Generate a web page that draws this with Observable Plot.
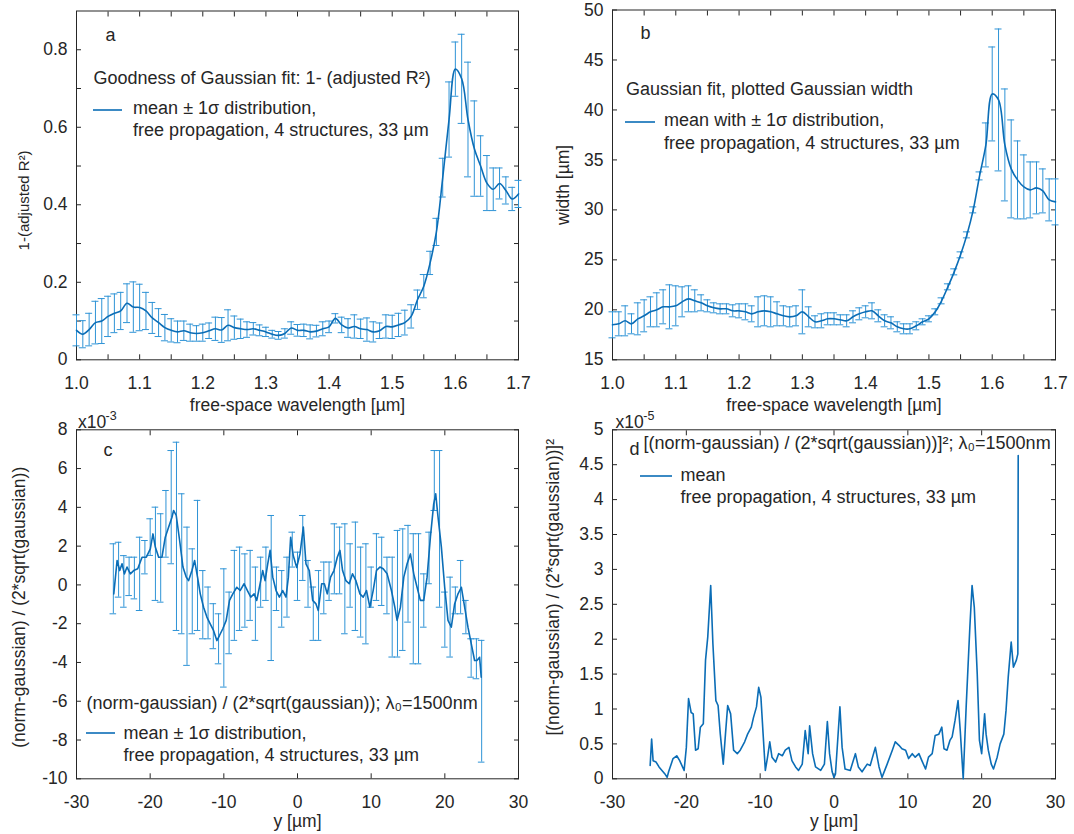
<!DOCTYPE html>
<html><head><meta charset="utf-8">
<script src="https://cdn.jsdelivr.net/npm/d3@7"></script>
<script src="https://cdn.jsdelivr.net/npm/@observablehq/plot@0.6"></script>
<style>
body{margin:0;background:#fff;}
#root{position:relative;width:1074px;height:834px;overflow:hidden;background:#fff;}
#root svg{position:absolute;}
</style></head><body><div id="root"></div>
<script>
// ---------- data ----------
const wavelength = d3.range(71).map(i => Math.round(100 + i) / 100); // 1.00 … 1.70 µm sampling
const aMean = [0.076,0.066,0.078,0.096,0.100,0.112,0.120,0.126,0.146,0.136,
  0.135,0.126,0.108,0.096,0.083,0.076,0.072,0.075,0.070,0.068,
  0.070,0.075,0.080,0.077,0.089,0.083,0.080,0.078,0.080,0.076,
  0.072,0.066,0.063,0.068,0.082,0.076,0.076,0.072,0.074,0.080,
  0.085,0.107,0.090,0.082,0.086,0.080,0.078,0.072,0.075,0.086,
  0.085,0.090,0.096,0.112,0.155,0.190,0.250,0.330,0.470,0.620,
  0.750,0.725,0.620,0.545,0.500,0.456,0.440,0.455,0.437,0.415,0.428];
const aErr = [0.040,0.035,0.042,0.055,0.058,0.052,0.050,0.048,0.050,0.065,
  0.060,0.048,0.040,0.036,0.034,0.030,0.028,0.025,0.022,0.020,
  0.022,0.020,0.030,0.032,0.040,0.030,0.025,0.020,0.016,0.014,
  0.012,0.010,0.010,0.012,0.016,0.015,0.016,0.018,0.015,0.018,
  0.015,0.012,0.020,0.024,0.030,0.025,0.030,0.026,0.020,0.030,
  0.030,0.030,0.032,0.030,0.025,0.030,0.030,0.035,0.050,0.097,
  0.070,0.115,0.148,0.123,0.078,0.071,0.055,0.040,0.035,0.030,0.035];
const bMean = [18.5,18.6,18.9,18.6,19.1,19.4,19.8,20.0,20.3,20.3,
  20.4,20.8,21.1,20.9,20.7,20.4,20.2,20.1,20.1,19.9,
  19.9,19.8,19.6,19.8,19.9,19.8,19.6,19.4,19.3,19.4,
  19.8,19.3,18.8,18.9,19.1,19.1,19.0,18.9,19.3,19.6,
  19.8,19.9,19.4,18.9,18.7,18.3,18.1,18.1,18.4,18.8,
  19.1,19.8,20.9,22.3,23.8,25.5,27.5,30.0,33.4,36.5,
  41.6,41.0,36.5,34.1,33.0,32.3,32.0,32.2,31.9,31.0,30.8];
const bErr = [1.3,1.2,1.5,1.0,1.6,1.6,1.5,1.7,1.7,2.2,
  2.0,1.5,1.3,1.1,0.8,0.6,0.5,0.5,0.5,0.6,
  0.7,0.8,0.8,1.5,1.5,1.5,1.2,1.0,1.0,1.0,
  2.2,1.0,0.6,0.7,0.6,0.6,0.5,0.6,0.6,0.6,
  0.6,0.8,0.6,0.6,0.6,0.5,0.5,0.5,0.4,0.3,
  0.3,0.3,0.3,0.3,0.3,0.3,0.3,0.3,0.4,2.2,
  4.7,7.1,5.6,4.9,3.9,3.2,2.8,2.6,2.2,2.1,2.3];

// panel c (values ×10^-3)
const cMean = [[-24.94,-0.46],[-24.49,1.26],[-24.13,0.74],[-23.82,1.09],[-23.5,0.57],[-23.14,0.92],[-22.69,0.57],[-22.24,0.74],[-21.69,0.83],[-21.1,1.43],[-20.52,1.43],[-19.98,1.86],[-19.62,2.63],[-19.3,1.95],[-18.85,1.43],[-18.4,1.43],[-17.95,2.46],[-17.5,2.98],[-17.04,3.49],[-16.82,3.84],[-16.46,3.58],[-16.0,2.29],[-15.55,0.92],[-15.1,0.4],[-14.79,0.22],[-14.33,0.74],[-13.97,1.26],[-13.57,0.4],[-13.2,-0.46],[-12.75,-1.15],[-12.3,-1.66],[-11.85,-2.01],[-11.4,-2.35],[-10.95,-2.87],[-10.59,-2.61],[-10.14,-2.26],[-9.68,-1.83],[-9.23,-0.8],[-8.78,-0.46],[-8.24,-0.12],[-7.79,-0.29],[-7.25,0.06],[-6.8,-0.29],[-6.34,-0.63],[-5.89,-0.46],[-5.53,-0.8],[-5.17,-0.12],[-4.72,0.74],[-4.4,0.22],[-4.04,1.09],[-3.72,1.78],[-3.36,0.4],[-2.91,-0.29],[-2.46,-0.63],[-2.01,-0.29],[-1.56,-0.63],[-1.24,0.4],[-0.93,2.46],[-0.57,1.5],[-0.11,0.9],[0.34,1.6],[0.79,2.98],[1.15,1.09],[1.6,0.74],[2.06,-0.8],[2.51,-0.98],[2.82,-1.32],[3.28,0.06],[3.64,0.06],[4.04,-0.46],[4.49,0.4],[4.95,0.74],[5.4,1.43],[5.76,1.78],[6.12,0.74],[6.57,0.22],[7.02,0.06],[7.47,0.57],[7.93,0.22],[8.47,-0.46],[8.92,-0.63],[9.37,-0.29],[9.82,-1.15],[10.27,-0.29],[10.72,0.74],[11.18,0.92],[11.63,0.83],[12.17,0.57],[12.75,-0.29],[13.21,-1.15],[13.52,-1.83],[13.97,-1.15],[14.43,0.4],[14.88,1.09],[15.33,1.6],[15.78,0.57],[16.23,-0.12],[16.68,-0.8],[17.14,-0.8],[17.59,0.4],[18.04,2.46],[18.49,4.18],[18.76,4.7],[19.08,3.49],[19.53,1.95],[19.98,-0.12],[20.43,-1.83],[20.88,-2.18],[21.33,-0.98],[21.79,-0.46],[22.24,-0.12],[22.69,-1.15],[23.14,-2.18],[23.59,-3.04],[24.04,-3.9],[24.36,-3.9],[24.72,-3.73],[24.94,-4.76]];
const cBarY = d3.range(71).map(i => -25 + i * 50 / 70); // error-bar sample positions (µm)
const cHi = [2.12,2.2,1.51,1.43,1.43,2.46,2.29,3.41,4.01,3.67,
  4.87,6.93,7.36,4.7,2.98,1.86,4.36,0.74,-0.11,-0.97,
  -1.49,0.83,-0.37,1.78,1.95,1.6,1.78,0.92,1.43,1.95,
  3.58,0.92,0.74,1.43,2.72,1.69,3.58,1.26,-0.11,0.74,
  1.18,1.18,3.15,2.98,3.15,2.12,3.24,1.95,2.12,0.92,
  2.64,2.46,1.43,1.43,2.81,2.89,3.07,2.64,2.64,0.57,
  2.72,6.93,6.93,-0.37,0.4,-0.11,1.26,-0.8,-2.78,-2.78,-2.86];
const cLo = [-1.49,-0.63,-1.15,-0.55,-0.72,-1.32,0.57,1.52,-0.8,-0.89,
  1.43,1.09,-2.35,-2.52,-4.15,-2.52,-2.35,-2.78,-2.78,-3.29,
  -4.07,-5.27,-3.55,-2.86,-2.35,-2.18,-1.83,-2.86,-1.15,-0.8,
  -3.9,-1.32,-2.18,-1.66,0.92,-0.8,0.23,-1.15,-2.86,-2.86,
  -1.49,-0.8,-0.46,-0.46,-2.52,-1.15,-2.35,-2.69,-3.04,-1.15,
  -0.8,-1.06,-1.49,-3.72,-3.72,-3.38,-1.92,-4.07,-4.07,-2.18,
  0.06,3.84,-1.15,-3.21,-3.72,-1.49,-1.49,-2.52,-4.76,-4.84,-9.14];

// panel d (values ×10^-5)
const dMean = [[-24.9,0.19],[-24.7,0.57],[-24.5,0.26],[-24.1,0.24],[-23.7,0.17],[-23.3,0.12],[-22.9,0.07],[-22.6,0.02],[-22.4,0.10],[-21.8,0.29],[-21.3,0.33],[-20.9,0.26],[-20.3,0.12],[-20.0,0.45],[-19.7,1.15],[-19.35,0.95],[-19.07,0.93],[-18.75,0.41],[-18.4,0.43],[-18.1,0.74],[-17.7,0.79],[-17.4,1.70],[-17.1,2.03],[-16.7,2.77],[-16.4,1.93],[-16.0,1.12],[-15.7,1.05],[-15.4,0.64],[-15.0,0.21],[-14.7,0.64],[-14.4,1.05],[-14.0,0.93],[-13.6,0.41],[-13.1,0.36],[-12.7,0.41],[-12.1,0.53],[-11.7,0.64],[-11.2,0.74],[-10.9,0.88],[-10.5,1.03],[-10.2,1.31],[-9.9,1.17],[-9.6,0.64],[-9.3,0.12],[-9.0,0.31],[-8.7,0.53],[-8.4,0.31],[-7.9,0.24],[-7.5,0.36],[-7.0,0.33],[-6.6,0.41],[-6.1,0.45],[-5.7,0.26],[-5.2,0.17],[-4.8,0.12],[-4.3,0.21],[-3.9,0.69],[-3.5,0.36],[-3.3,0.76],[-2.9,0.36],[-2.5,0.17],[-1.8,0.12],[-1.3,0.21],[-0.9,0.82],[-0.6,0.36],[-0.25,0.10],[0.0,0.02],[0.2,0.07],[0.8,1.03],[1.1,0.45],[1.5,0.14],[2.2,0.12],[2.9,0.36],[3.3,0.17],[3.8,0.10],[4.5,0.21],[4.9,0.19],[5.6,0.45],[6.1,0.17],[6.5,0.02],[7.2,0.21],[7.9,0.41],[8.3,0.53],[8.8,0.48],[9.2,0.43],[9.7,0.41],[10.1,0.29],[10.6,0.36],[11.0,0.31],[11.5,0.36],[11.9,0.26],[12.4,0.14],[12.8,0.31],[13.3,0.36],[13.7,0.62],[14.2,0.64],[14.6,0.74],[14.9,0.43],[15.3,0.41],[15.7,0.55],[16.0,0.60],[16.4,0.84],[16.8,1.12],[17.1,0.69],[17.5,0.0],[17.9,1.03],[18.4,2.17],[18.7,2.77],[19.0,2.46],[19.4,1.50],[19.7,0.55],[20.0,0.36],[20.4,0.93],[20.6,0.64],[20.9,0.41],[21.3,0.21],[21.6,0.14],[22.1,0.31],[22.5,0.50],[23.0,0.64],[23.3,0.98],[23.6,1.46],[24.0,1.96],[24.3,1.60],[24.7,1.70],[24.9,1.79],[24.95,4.63]];

// ticks
const wlTicksMinor = [1.0,1.05,1.1,1.15,1.2,1.25,1.3,1.35,1.4,1.45,1.5,1.55,1.6,1.65,1.7];
const wlTicksMajor = [1.0,1.1,1.2,1.3,1.4,1.5,1.6,1.7];
const aTicksMinor = [0,0.1,0.2,0.3,0.4,0.5,0.6,0.7,0.8];
const aTicksMajor = [0,0.2,0.4,0.6,0.8];
const bTicks = [15,20,25,30,35,40,45,50];
const posTicks = [-30,-20,-10,0,10,20,30];
const cTicks = [-10,-8,-6,-4,-2,0,2,4,6,8];
const dTicks = [0,0.5,1,1.5,2,2.5,3,3.5,4,4.5,5];

// ---------- style ----------
const ink = "#262626";
const meanBlue = "#0b6db6";
const barBlue = "#2e93d6";
const FONT = "'Liberation Sans', Arial, Helvetica, sans-serif";
const TICK_FS = 17.5, TEXT_FS = 18;

function boxAxes(xMinor, xMajor, xFmt, yMinor, yMajor, yFmt) {
  const tk = {tickSize: -5, fill: "none", stroke: ink, label: null};
  return [
    Plot.frame({stroke: ink, strokeWidth: 1}),
    Plot.axisX(xMinor, {anchor: "bottom", ...tk}),
    Plot.axisX(xMinor, {anchor: "top", ...tk}),
    Plot.axisY(yMinor, {anchor: "left", ...tk}),
    Plot.axisY(yMinor, {anchor: "right", ...tk}),
    Plot.axisX(xMajor, {anchor: "bottom", tickSize: 0, tickPadding: 17, tickFormat: xFmt, fill: ink, label: null, fontSize: TICK_FS}),
    Plot.axisY(yMajor, {anchor: "left", tickSize: 0, tickPadding: 9, tickFormat: yFmt, fill: ink, label: null, fontSize: TICK_FS})
  ];
}
function note(str, dx, dy, size = TEXT_FS) {
  return Plot.text([str], {text: d => d, frameAnchor: "top-left", dx, dy, textAnchor: "start", lineAnchor: "middle", fontSize: size, fill: ink});
}
function yLabel(str, dx, dy, size = TICK_FS) {
  return Plot.text([str], {text: d => d, frameAnchor: "left", rotate: -90, dx, dy, textAnchor: "middle", lineAnchor: "middle", fontSize: size, fill: ink});
}
function xLabel(str, dy) {
  return Plot.text([str], {text: d => d, frameAnchor: "bottom", dy, textAnchor: "middle", lineAnchor: "middle", fontSize: TICK_FS, fill: ink});
}
function errorBars(data, cap) {
  return [
    Plot.ruleX(data, {x: "x", y1: "lo", y2: "hi", stroke: barBlue, strokeWidth: 1}),
    Plot.ruleY(data, {y: "hi", x1: "x", x2: "x", insetLeft: -cap, insetRight: -cap, stroke: barBlue, strokeWidth: 1}),
    Plot.ruleY(data, {y: "lo", x1: "x", x2: "x", insetLeft: -cap, insetRight: -cap, stroke: barBlue, strokeWidth: 1})
  ];
}
const baseStyle = {background: "transparent", fontFamily: FONT, color: ink, overflow: "visible"};
const root = document.getElementById("root");
function place(svg, left, top, swatch) {
  svg.style.left = left + "px"; svg.style.top = top + "px";
  d3.select(svg).append("line")
    .attr("x1", swatch[0]).attr("x2", swatch[1]).attr("y1", swatch[2]).attr("y2", swatch[2])
    .attr("stroke", meanBlue).attr("stroke-width", 1.6);
  root.appendChild(svg);
}
const fmt1 = d => d.toFixed(1);
const fmtG = d => d === 0 ? "0" : String(d);

// ---------- panel a ----------
const aData = wavelength.map((x, i) => ({x, y: aMean[i], lo: aMean[i] - aErr[i], hi: aMean[i] + aErr[i]}));
const svgA = Plot.plot({
  width: 537, height: 414, marginLeft: 76, marginRight: 19, marginTop: 10.5, marginBottom: 54.7,
  x: {domain: [1, 1.7]}, y: {domain: [0, 0.9]}, style: baseStyle,
  marks: [
    ...boxAxes(wlTicksMinor, wlTicksMajor, fmt1, aTicksMinor, aTicksMajor, fmtG),
    ...errorBars(aData, 3.5),
    Plot.line(aData, {x: "x", y: "y", stroke: meanBlue, strokeWidth: 1.6, curve: "catmull-rom"}),
    note("a", 29, 24.5),
    note("Goodness of Gaussian fit: 1- (adjusted R²)", 17, 67),
    note("mean ± 1σ distribution,", 56.6, 97.5),
    note("free propagation, 4 structures, 33 µm", 56.6, 119.5),
    yLabel("1-(adjusted R²)", -52, 15, 15),
    xLabel("free-space wavelength [µm]", 45.7)
  ]
});
place(svgA, 0, 0, [93, 122, 110]);

// ---------- panel b ----------
const bData = wavelength.map((x, i) => ({x, y: bMean[i], lo: bMean[i] - bErr[i], hi: bMean[i] + bErr[i]}));
const svgB = Plot.plot({
  width: 537, height: 414, marginLeft: 75, marginRight: 19, marginTop: 9.5, marginBottom: 54.7,
  x: {domain: [1, 1.7]}, y: {domain: [15, 50]}, style: baseStyle,
  marks: [
    ...boxAxes(wlTicksMinor, wlTicksMajor, fmt1, bTicks, bTicks, fmtG),
    ...errorBars(bData, 3.5),
    Plot.line(bData, {x: "x", y: "y", stroke: meanBlue, strokeWidth: 1.6, curve: "catmull-rom"}),
    note("b", 28, 23.5),
    note("Gaussian fit, plotted Gaussian width", 13.4, 79.5),
    note("mean with ± 1σ distribution,", 51.6, 110.5),
    note("free propagation, 4 structures, 33 µm", 51.6, 133.5),
    yLabel("width [µm]", -49, 0),
    xLabel("free-space wavelength [µm]", 45.7)
  ]
});
place(svgB, 537, 0, [88, 118, 122]);

// ---------- panel c ----------
const cLine = cMean.map(([x, y]) => ({x, y}));
const cBars = cBarY.map((x, i) => ({x, lo: cLo[i], hi: cHi[i]}));
const svgC = Plot.plot({
  width: 537, height: 420, marginLeft: 76, marginRight: 19, marginTop: 15.3, marginBottom: 55.7,
  x: {domain: [-30, 30]}, y: {domain: [-10, 8]}, style: baseStyle,
  marks: [
    ...boxAxes(posTicks, posTicks, fmtG, cTicks, cTicks, fmtG),
    ...errorBars(cBars, 3.3),
    Plot.line(cLine, {x: "x", y: "y", stroke: meanBlue, strokeWidth: 1.6}),
    note("x10", 1.5, -7.6, TICK_FS),
    note("-3", 29, -14.3, 12.5),
    note("c", 27, 20.7),
    note("(norm-gaussian) / (2*sqrt(gaussian)); λ₀=1500nm", 10, 273.7),
    note("mean ± 1σ distribution,", 47, 303.7),
    note("free propagation, 4 structures, 33 µm", 47, 325.7),
    yLabel("(norm-gaussian) / (2*sqrt(gaussian))", -57, 3),
    xLabel("y [µm]", 43)
  ]
});
place(svgC, 0, 414, [86, 115, 319]);

// ---------- panel d ----------
const dLine = dMean.map(([x, y]) => ({x, y}));
const svgD = Plot.plot({
  width: 537, height: 420, marginLeft: 75, marginRight: 19, marginTop: 15.3, marginBottom: 55.7,
  x: {domain: [-30, 30]}, y: {domain: [0, 5]}, style: baseStyle,
  marks: [
    ...boxAxes(posTicks, posTicks, fmtG, dTicks, dTicks, fmtG),
    Plot.line(dLine, {x: "x", y: "y", stroke: meanBlue, strokeWidth: 1.6}),
    note("x10", 3, -7.6, TICK_FS),
    note("-5", 30.8, -14.3, 12.5),
    note("d", 17, 19.7),
    note("[(norm-gaussian) / (2*sqrt(gaussian))]²; λ₀=1500nm", 31, 13.7),
    note("mean", 68, 45.7),
    note("free propagation, 4 structures, 33 µm", 68, 67.7),
    yLabel("[(norm-gaussian) / (2*sqrt(gaussian))]²", -59.5, -17),
    xLabel("y [µm]", 43)
  ]
});
place(svgD, 537, 414, [103, 135, 62]);
</script>
</body></html>
